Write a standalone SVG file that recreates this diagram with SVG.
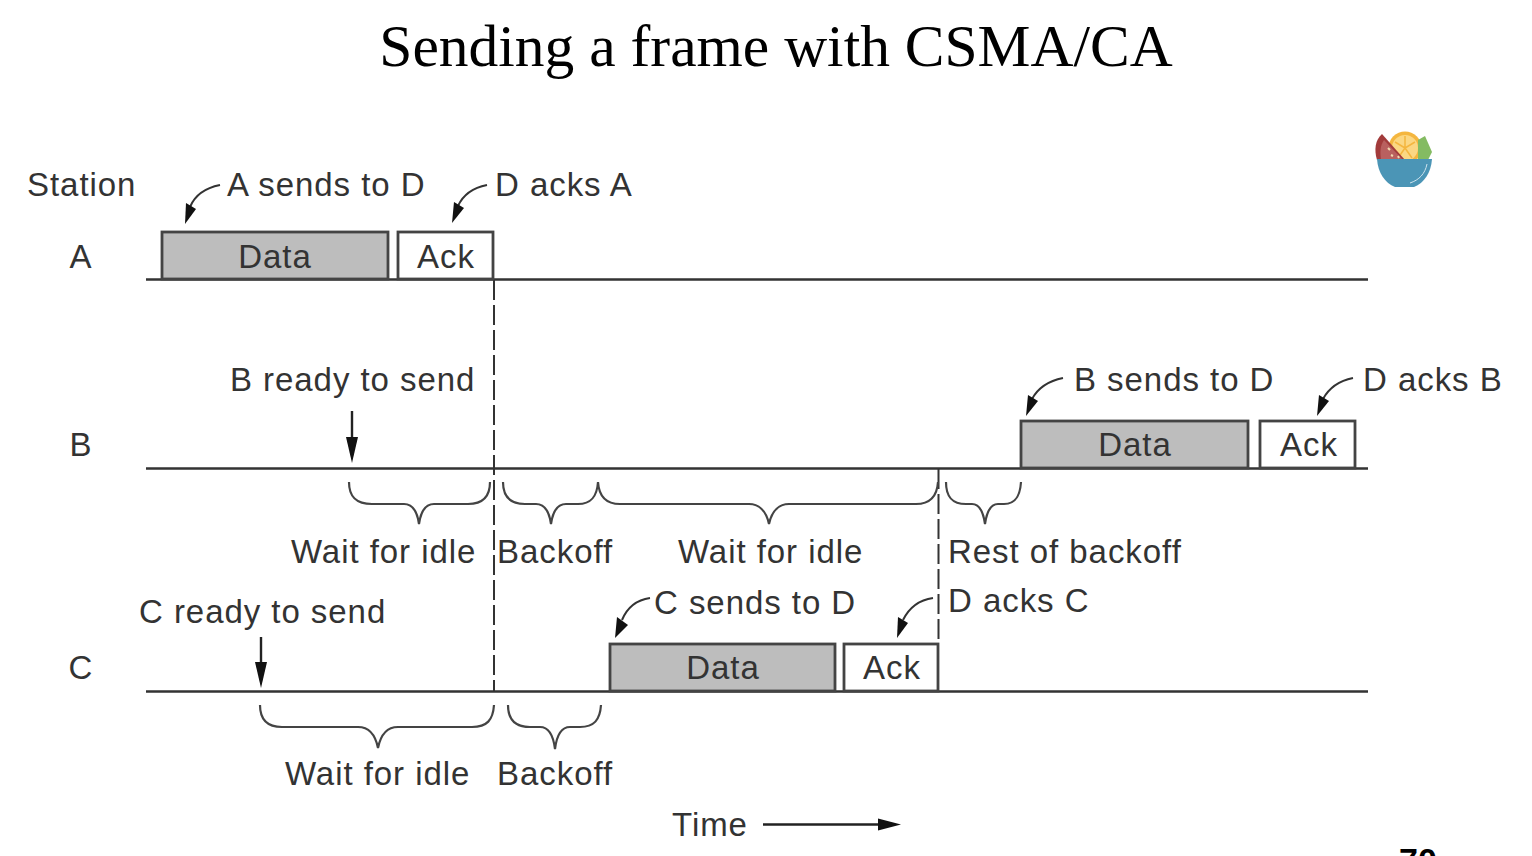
<svg xmlns="http://www.w3.org/2000/svg" width="1532" height="856" viewBox="0 0 1532 856">
<defs>
<style>
.t{font-family:"Liberation Sans",Arial,sans-serif;font-size:33px;letter-spacing:.95px;fill:#333}
.m{text-anchor:middle}
.ln{stroke:#333;stroke-width:2.6;fill:none}
.box{stroke:#444;stroke-width:2.8}
.d{fill:#bdbdbd}
.a{fill:#fff}
.br{stroke:#444;stroke-width:2.2;fill:none}
.cv{stroke:#333;stroke-width:2;fill:none}
.ah{fill:#111}
</style>
</defs>
<rect width="1532" height="856" fill="#fff"/>
<text id="title" x="776" y="66" text-anchor="middle" font-family="'Liberation Serif','Times New Roman',serif" font-size="59.500" fill="#000">Sending a frame with CSMA/CA</text>

<g id="logo">
<circle cx="1405" cy="148" r="16.500" fill="#f4b63f"/>
<circle cx="1405" cy="148" r="13" fill="#fbd783"/>
<path d="M1405 148V136M1405 148L1395 142M1405 148L1415 142M1405 148L1398 158M1405 148L1412 158" stroke="#f4b63f" stroke-width="1.500"/>
<path d="M1418 140L1425 136L1432 152L1428 160H1418Z" fill="#84bb62"/>
<path d="M1382 134C1375 140 1374 150 1377 160H1405Z" fill="#a23b3b"/>
<path d="M1384 140C1380 146 1380 152 1381 160H1403Z" fill="#b9605f"/>
<path d="M1388 148l2 2M1391 155l2 1M1398 156l1 2" stroke="#f3d9b0" stroke-width="2"/>
<path d="M1377 159H1432C1431 173 1424 183 1414 187H1395C1385 183 1378 173 1377 159Z" fill="#4b95b6"/>
<path d="M1427 164C1425 174 1419 180 1410 183" stroke="#cfe4ee" stroke-width="1" fill="none"/>
</g>

<g id="connectors">
<path class="ln" d="M146 279.500H1368M146 468.500H1368M146 691.500H1368"/>
<path stroke="#333" stroke-width="2" fill="none" stroke-dasharray="20 5" d="M494 280V692M938.500 469V642"/>
<path class="cv" d="M220 185C205 188 195 195 190 207"/>
<path class="ah" d="M185 224L186 203L196 209Z"/>
<path class="cv" d="M487 185C472 188 463 195 458 206"/>
<path class="ah" d="M452 223L454 202L464 208Z"/>
<path class="cv" d="M1063 378C1048 381 1038 388 1032 399"/>
<path class="ah" d="M1026 416L1028 395L1038 401Z"/>
<path class="cv" d="M1353 378C1338 381 1329 388 1323 399"/>
<path class="ah" d="M1317 416L1319 395L1329 401Z"/>
<path class="cv" d="M650 598C636 600 627 608 622 620"/>
<path class="ah" d="M615 638L617 617L628 625Z"/>
<path class="cv" d="M933 598C919 600 909 608 903 620"/>
<path class="ah" d="M897 638L898 617L908 623Z"/>
<path stroke="#222" stroke-width="2.400" d="M352 411V445"/>
<path class="ah" d="M352 463L346 437H358Z"/>
<path stroke="#222" stroke-width="2.400" d="M261 637V669"/>
<path class="ah" d="M261 688L255 662H267Z"/>
<path stroke="#222" stroke-width="2.400" d="M763 824.500H882"/>
<path class="ah" d="M901 824.500L878 818.500V830.500Z"/>
<path class="br" d="M349 482C349 497 356 504 372 504H404C412 504 417 510 419 524C421 510 426 504 434 504H468C483 504 490 497 490 482"/>
<path class="br" d="M503 482C503 497 510 504 525 504H536C544 504 549 510 551 524C553 510 558 504 566 504H578C591 504 597 497 598 482C599 497 606 504 620 504H749C758 504 766 510 769 524C772 510 780 504 789 504H916C930 504 937 497 938 482"/>
<path class="br" d="M946 482C946 497 952 504 966 504H972C979 504 983 510 985 524C987 510 991 504 998 504H1004C1015 504 1020 497 1021 482"/>
<path class="br" d="M260 705C260 720 267 727 282 727H358C368 727 375 733 378 748C381 733 388 727 398 727H472C487 727 493 720 494 705"/>
<path class="br" d="M508 705C508 720 515 727 530 727H540C548 727 553 733 555 749C557 733 562 727 570 727H580C594 727 600 720 601 705"/>
</g>

<g id="station-a">
<rect class="box d" x="162" y="232" width="226" height="47"/>
<rect class="box a" x="398" y="232" width="95" height="47"/>
<text class="t m" x="275" y="268">Data</text>
<text class="t m" x="446" y="268">Ack</text>
<text class="t m" x="81" y="268">A</text>
</g>
<g id="station-b">
<rect class="box d" x="1021" y="421" width="227" height="47"/>
<rect class="box a" x="1260" y="421" width="95" height="47"/>
<text class="t m" x="1135" y="456">Data</text>
<text class="t m" x="1309" y="456">Ack</text>
<text class="t m" x="81" y="456">B</text>
</g>
<g id="station-c">
<rect class="box d" x="610" y="644" width="225" height="47"/>
<rect class="box a" x="844" y="644" width="94" height="47"/>
<text class="t m" x="723" y="679">Data</text>
<text class="t m" x="892" y="679">Ack</text>
<text class="t m" x="81" y="679">C</text>
</g>
<g id="labels">
<text class="t" x="27" y="196">Station</text>
<text class="t" x="227" y="196">A sends to D</text>
<text class="t" x="495" y="196">D acks A</text>
<text class="t" x="230" y="391">B ready to send</text>
<text class="t" x="1074" y="391">B sends to D</text>
<text class="t" x="1363" y="391">D acks B</text>
<text class="t" x="291" y="563">Wait for idle</text>
<text class="t" x="497" y="563">Backoff</text>
<text class="t" x="678" y="563">Wait for idle</text>
<text class="t" x="948" y="563">Rest of backoff</text>
<text class="t" x="139" y="623">C ready to send</text>
<text class="t" x="654" y="614">C sends to D</text>
<text class="t" x="948" y="612">D acks C</text>
<text class="t" x="285" y="785">Wait for idle</text>
<text class="t" x="497" y="785">Backoff</text>
<text class="t" x="672" y="836">Time</text>
<text x="1399" y="872" font-family="'Liberation Sans',Arial,sans-serif" font-size="34" font-weight="bold" fill="#000">70</text>
</g>
</svg>
